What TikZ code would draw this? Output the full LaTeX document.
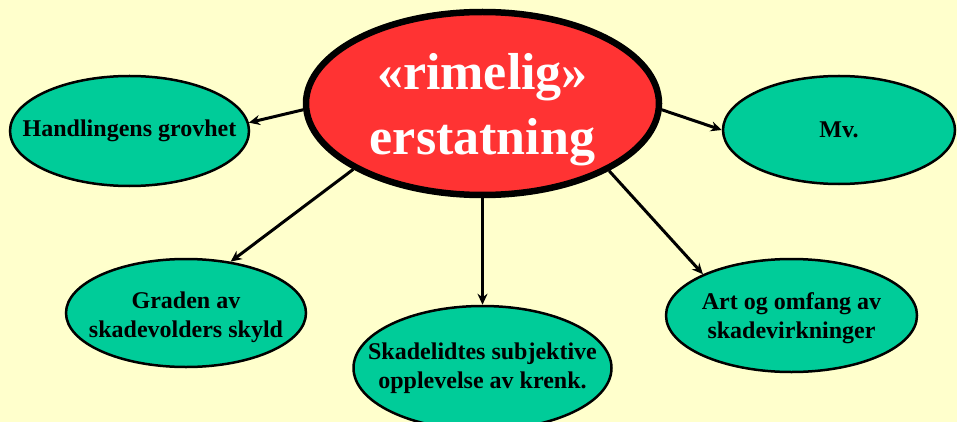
\documentclass[tikz,border=0pt]{standalone}
\usepackage{fontspec}
\setmainfont{Liberation Serif}
\usetikzlibrary{shapes.geometric,arrows.meta}
\definecolor{bgyellow}{HTML}{FFFFCC}
\definecolor{hubred}{HTML}{FF3333}
\definecolor{leafgreen}{HTML}{00CC99}
\begin{document}
\begin{tikzpicture}[x=1pt,y=-1pt,
  leaf/.style={ellipse,draw=black,line width=2.5pt,fill=leafgreen,inner xsep=-40pt,inner ysep=0pt,align=center,
    font=\bfseries\fontsize{24}{28.5}\selectfont},
  hub/.style={ellipse,draw=black,line width=6.5pt,fill=hubred,inner sep=0pt,align=center,text=white,
    font=\bfseries\fontsize{52}{65}\selectfont},
  link/.style={line width=3pt,-{Stealth[length=11pt,width=10pt]}}]
\fill[bgyellow] (0,0) rectangle (957,422);
\useasboundingbox (0,0) rectangle (957,422);
\node[hub,minimum width=353pt,minimum height=183pt,text height=114pt,text depth=11pt] (c) at (482.5,103.5) {«rimelig»\\erstatning};
\node[leaf,minimum width=239pt,minimum height=110pt] (h) at (129.5,131) {Handlingens grovhet};
\node[leaf,minimum width=232pt,minimum height=108pt] (m) at (839,130) {Mv.};
\node[leaf,minimum width=258pt,minimum height=124pt] (s) at (482.5,368) {Skadelidtes subjektive\\ opplevelse av krenk.};
\node[leaf,minimum width=240pt,minimum height=108pt,text height=54pt,text depth=6pt] (g) at (186,313) {Graden av\\skadevolders skyld};
\node[leaf,minimum width=251pt,minimum height=113pt,text height=51pt,text depth=6pt] (a) at (791.5,315.5) {Art og omfang av\\skadevirkninger};
\draw[link] (c.182.9) -- (h.4.3);
\draw[link] (c.358.7) -- (m.180);
\draw[link] (c.270) -- (s.90);
\draw[link] (c.207.5) -- (g.49);
\draw[link] (c.332.4) -- (a.155.4);
\end{tikzpicture}
\end{document}
